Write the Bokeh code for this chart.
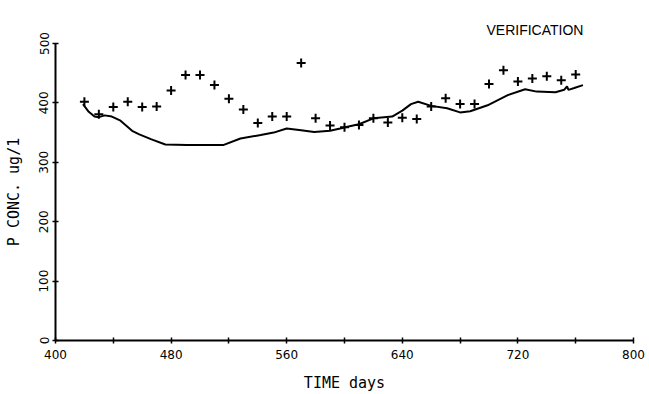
from bokeh.plotting import figure
from bokeh.models import FixedTicker, Range1d, Title
from bokeh.embed import file_html
from bokeh.resources import INLINE

# Observed data (crosses), every 10 days
obs_days = [420, 430, 440, 450, 460, 470, 480, 490, 500, 510, 520, 530, 540, 550,
            560, 570, 580, 590, 600, 610, 620, 630, 640, 650, 660, 670, 680, 690,
            700, 710, 720, 730, 740, 750, 760]
obs_conc = [402, 381, 393, 402, 393, 394, 421, 447, 447, 430, 407, 389, 366, 377,
            377, 467, 374, 362, 359, 363, 374, 367, 375, 373, 394, 408, 398, 398,
            432, 455, 436, 441, 445, 438, 448]

# Model curve (solid line)
model_days = [419, 423, 427, 430, 434, 439, 445, 453, 458, 466, 476, 491, 505, 516,
              528, 542, 551, 560, 570, 579, 590, 597, 602, 610, 620, 633, 640, 646,
              651, 660, 671, 680, 687, 699, 713, 725, 733, 746, 752, 754, 755, 759, 765]
model_conc = [398, 385, 377, 376, 379, 377, 370, 353, 347, 339, 330, 329, 329, 329,
              340, 346, 350, 357, 354, 351, 353, 357, 360, 364, 374, 377, 387, 398,
              402, 395, 391, 384, 386, 396, 413, 423, 419, 418, 422, 428, 422, 425, 430]

x_ticks = [400, 440, 480, 520, 560, 600, 640, 680, 720, 760, 800]
x_tick_labels = ["400", "", "480", "", "560", "", "640", "", "720", "", "800"]
y_ticks = [0, 100, 200, 300, 400, 500]
y_tick_labels = ["0", "100", "200", "300", "400", "500"]

p = figure(width=649, height=394, x_range=Range1d(400, 800), y_range=Range1d(0, 500),
           output_backend="svg", toolbar_location=None,
           min_border_left=55, min_border_right=16, min_border_top=43, min_border_bottom=53)
p.outline_line_color = None
p.xgrid.visible = False
p.ygrid.visible = False
p.background_fill_color = "white"
p.border_fill_color = "white"

p.line(model_days, model_conc, line_color="black", line_width=2)
p.scatter(obs_days, obs_conc, marker="cross", size=9, line_color="black", line_width=2)

for ax in (p.xaxis[0], p.yaxis[0]):
    ax.axis_line_width = 2
    ax.axis_line_color = "black"
    ax.major_tick_line_width = 1.5
    ax.major_tick_line_color = "black"
    ax.major_tick_in = 3
    ax.major_tick_out = 3
    ax.minor_tick_line_color = None
    ax.major_label_text_font = "DejaVu Sans"
    ax.major_label_text_font_size = "12px"
    ax.major_label_text_color = "black"
    ax.axis_label_text_font = "DejaVu Sans Mono"
    ax.axis_label_text_font_size = "15px"
    ax.axis_label_text_font_style = "normal"
    ax.axis_label_text_color = "black"

p.xaxis[0].ticker = FixedTicker(ticks=x_ticks)
p.xaxis[0].major_label_overrides = {t: l for t, l in zip(x_ticks, x_tick_labels)}
p.xaxis[0].major_label_standoff = 6
p.xaxis[0].axis_label = "TIME days"
p.xaxis[0].axis_label_standoff = 12

p.yaxis[0].ticker = FixedTicker(ticks=y_ticks)
p.yaxis[0].major_label_overrides = {t: l for t, l in zip(y_ticks, y_tick_labels)}
p.yaxis[0].major_label_orientation = "vertical"
p.yaxis[0].major_label_standoff = 4
p.yaxis[0].axis_label = "P CONC. ug/1"
p.yaxis[0].axis_label_standoff = 14

p.add_layout(Title(text="VERIFICATION", align="left", offset=431, standoff=12,
                   text_font="Liberation Sans", text_font_size="14px",
                   text_font_style="normal", text_color="black"), "above")

open("out.html", "w").write(file_html(p, INLINE))
